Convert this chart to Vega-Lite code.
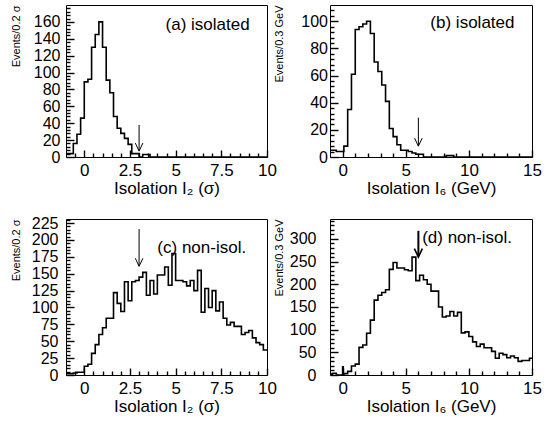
{
  "$schema": "https://vega.github.io/schema/vega-lite/v6.json",
  "padding": {"left": 9, "top": 4, "right": 0, "bottom": 0},
  "columns": 2,
  "spacing": {"row": 17, "column": -4},
  "config": {
    "view": {"stroke": "black", "strokeWidth": 1},
    "font": "Liberation Sans",
    "axis": {"domain": false, "grid": false, "tickColor": "black", "tickWidth": 1.4, "labelColor": "black", "titleColor": "black", "labelFont": "Liberation Sans", "titleFont": "Liberation Sans", "labelFontSize": 17, "titleFontSize": 17, "titleFontWeight": "normal", "labelOverlap": false, "labelFlush": false, "labelBound": false},
    "axisY": {"titleFontSize": 11, "titleAngle": -90, "titleAlign": "right", "titleBaseline": "bottom", "titleY": 0, "labelFontSize": 16},
    "text": {"font": "Liberation Sans"}
  },
  "concat": [
    {
      "width": 201, "height": 152,
      "resolve": {"axis": {"x": "independent", "y": "independent"}},
      "layer": [
        {
          "data": {"values": [
            {"x": -1, "n": 4}, {"x": -0.8, "n": 4}, {"x": -0.6, "n": 16}, {"x": -0.4, "n": 27}, {"x": -0.2, "n": 46},
            {"x": 0, "n": 89}, {"x": 0.2, "n": 92}, {"x": 0.4, "n": 130}, {"x": 0.6, "n": 145}, {"x": 0.8, "n": 160},
            {"x": 1, "n": 130}, {"x": 1.2, "n": 91}, {"x": 1.4, "n": 76}, {"x": 1.6, "n": 48}, {"x": 1.8, "n": 34},
            {"x": 2, "n": 28}, {"x": 2.2, "n": 22}, {"x": 2.4, "n": 15}, {"x": 2.6, "n": 4}, {"x": 2.8, "n": 4},
            {"x": 3, "n": 0}, {"x": 3.2, "n": 3}, {"x": 3.4, "n": 3}, {"x": 3.6, "n": 0}, {"x": 10, "n": 0}
          ]},
          "mark": {"type": "line", "interpolate": "step-after", "color": "black", "strokeWidth": 1.6},
          "encoding": {
            "x": {"field": "x", "type": "quantitative", "scale": {"domain": [-1, 10], "nice": false, "zero": false},
                  "axis": {"orient": "bottom", "values": [0, 2.5, 5, 7.5, 10], "format": ".2~f", "offset": -7, "tickSize": 7, "labelPadding": 5, "title": "Isolation I₂ (σ)", "titlePadding": 2}},
            "y": {"field": "n", "type": "quantitative", "scale": {"domain": [0, 180], "nice": false},
                  "axis": {"orient": "left", "values": [0, 20, 40, 60, 80, 100, 120, 140, 160], "offset": -8, "tickSize": 8, "labelPadding": 6, "title": "Events/0.2 σ", "titleX": -53}}
          }
        },
        {
          "data": {"values": [{"cut": 3}]},
          "mark": {"type": "rule", "color": "black", "strokeWidth": 1},
          "encoding": {
            "x": {"field": "cut", "type": "quantitative", "scale": {"domain": [-1, 10], "nice": false, "zero": false},
                  "axis": {"orient": "bottom", "values": [-0.5, 0.5, 1, 1.5, 2, 3, 3.5, 4, 4.5, 5.5, 6, 6.5, 7, 8, 8.5, 9, 9.5], "offset": -4, "tickSize": 4, "labels": false, "title": null}},
            "y": {"datum": 38, "type": "quantitative", "scale": {"domain": [0, 180], "nice": false},
                  "axis": {"orient": "left", "values": [4, 8, 12, 16, 24, 28, 32, 36, 44, 48, 52, 56, 64, 68, 72, 76, 84, 88, 92, 96, 104, 108, 112, 116, 124, 128, 132, 136, 144, 148, 152, 156, 164, 168, 172, 176], "offset": -4, "tickSize": 4, "labels": false, "title": null}},
            "y2": {"datum": 7}
          }
        },
        {
          "data": {"values": [{"cut": 3}]},
          "mark": {"type": "point", "shape": "M-1,-2.1L0,0L1,-2.1", "size": 58, "filled": false, "color": "black", "strokeWidth": 1, "opacity": 1},
          "encoding": {
            "x": {"field": "cut", "type": "quantitative", "scale": {"domain": [-1, 10], "nice": false, "zero": false}, "axis": null},
            "y": {"datum": 7, "type": "quantitative", "scale": {"domain": [0, 180], "nice": false}, "axis": null}
          }
        },
        {
          "data": {"values": [{"label": "(a) isolated"}]},
          "mark": {"type": "text", "align": "left", "baseline": "alphabetic", "fontSize": 17, "color": "black"},
          "encoding": {
            "x": {"datum": 4.45, "type": "quantitative", "scale": {"domain": [-1, 10], "nice": false, "zero": false}, "axis": null},
            "y": {"datum": 150, "type": "quantitative", "scale": {"domain": [0, 180], "nice": false}, "axis": null},
            "text": {"field": "label"}
          }
        }
      ]
    },
    {
      "width": 202, "height": 152,
      "resolve": {"axis": {"x": "independent", "y": "independent"}},
      "layer": [
        {
          "data": {"values": [
            {"x": -1, "n": 5}, {"x": -0.8, "n": 5}, {"x": -0.5, "n": 4}, {"x": -0.2, "n": 4}, {"x": 0.1, "n": 8},
            {"x": 0.4, "n": 35}, {"x": 0.7, "n": 61}, {"x": 1, "n": 94}, {"x": 1.3, "n": 96}, {"x": 1.6, "n": 98},
            {"x": 1.9, "n": 100}, {"x": 2.2, "n": 91}, {"x": 2.5, "n": 70}, {"x": 2.8, "n": 63}, {"x": 3.1, "n": 53},
            {"x": 3.4, "n": 41}, {"x": 3.7, "n": 21}, {"x": 4, "n": 15}, {"x": 4.3, "n": 9}, {"x": 4.6, "n": 5},
            {"x": 4.9, "n": 5}, {"x": 5.2, "n": 4}, {"x": 5.5, "n": 3}, {"x": 5.8, "n": 2}, {"x": 6.1, "n": 2},
            {"x": 6.4, "n": 0}, {"x": 8.2, "n": 1}, {"x": 8.8, "n": 0}, {"x": 15, "n": 0}
          ]},
          "mark": {"type": "line", "interpolate": "step-after", "color": "black", "strokeWidth": 1.6},
          "encoding": {
            "x": {"field": "x", "type": "quantitative", "scale": {"domain": [-1, 15], "nice": false, "zero": false},
                  "axis": {"orient": "bottom", "values": [0, 5, 10, 15], "format": ".2~f", "offset": -7, "tickSize": 7, "labelPadding": 5, "title": "Isolation I₆ (GeV)", "titlePadding": 2}},
            "y": {"field": "n", "type": "quantitative", "scale": {"domain": [0, 112], "nice": false},
                  "axis": {"orient": "left", "values": [0, 20, 40, 60, 80, 100], "offset": -8, "tickSize": 8, "labelPadding": 2.5, "title": "Events/0.3 GeV", "titleX": -53.5}}
          }
        },
        {
          "data": {"values": [{"cut": 6}]},
          "mark": {"type": "rule", "color": "black", "strokeWidth": 1},
          "encoding": {
            "x": {"field": "cut", "type": "quantitative", "scale": {"domain": [-1, 15], "nice": false, "zero": false},
                  "axis": {"orient": "bottom", "values": [1, 2, 3, 4, 6, 7, 8, 9, 11, 12, 13, 14], "offset": -4, "tickSize": 4, "labels": false, "title": null}},
            "y": {"datum": 29, "type": "quantitative", "scale": {"domain": [0, 112], "nice": false},
                  "axis": {"orient": "left", "values": [4, 8, 12, 16, 24, 28, 32, 36, 44, 48, 52, 56, 64, 68, 72, 76, 84, 88, 92, 96, 104, 108], "offset": -4, "tickSize": 4, "labels": false, "title": null}},
            "y2": {"datum": 8}
          }
        },
        {
          "data": {"values": [{"cut": 6}]},
          "mark": {"type": "point", "shape": "M-1,-2.1L0,0L1,-2.1", "size": 58, "filled": false, "color": "black", "strokeWidth": 1, "opacity": 1},
          "encoding": {
            "x": {"field": "cut", "type": "quantitative", "scale": {"domain": [-1, 15], "nice": false, "zero": false}, "axis": null},
            "y": {"datum": 8, "type": "quantitative", "scale": {"domain": [0, 112], "nice": false}, "axis": null}
          }
        },
        {
          "data": {"values": [{"label": "(b) isolated"}]},
          "mark": {"type": "text", "align": "left", "baseline": "alphabetic", "fontSize": 17, "color": "black"},
          "encoding": {
            "x": {"datum": 6.95, "type": "quantitative", "scale": {"domain": [-1, 15], "nice": false, "zero": false}, "axis": null},
            "y": {"datum": 95, "type": "quantitative", "scale": {"domain": [0, 112], "nice": false}, "axis": null},
            "text": {"field": "label"}
          }
        }
      ]
    },
    {
      "width": 201, "height": 156,
      "resolve": {"axis": {"x": "independent", "y": "independent"}},
      "layer": [
        {
          "data": {"values": [
            {"x": -1, "n": 2}, {"x": -0.8, "n": 2}, {"x": -0.6, "n": 3}, {"x": -0.4, "n": 4}, {"x": -0.2, "n": 4},
            {"x": 0, "n": 13}, {"x": 0.2, "n": 16}, {"x": 0.4, "n": 32}, {"x": 0.6, "n": 45}, {"x": 0.8, "n": 60},
            {"x": 1, "n": 70}, {"x": 1.2, "n": 84}, {"x": 1.4, "n": 84}, {"x": 1.6, "n": 122}, {"x": 1.8, "n": 106},
            {"x": 2, "n": 94}, {"x": 2.2, "n": 138}, {"x": 2.4, "n": 110}, {"x": 2.6, "n": 138}, {"x": 2.8, "n": 140},
            {"x": 3, "n": 145}, {"x": 3.2, "n": 152}, {"x": 3.4, "n": 118}, {"x": 3.6, "n": 140}, {"x": 3.8, "n": 120},
            {"x": 4, "n": 148}, {"x": 4.2, "n": 148}, {"x": 4.4, "n": 160}, {"x": 4.6, "n": 133}, {"x": 4.8, "n": 180},
            {"x": 5, "n": 140}, {"x": 5.2, "n": 140}, {"x": 5.4, "n": 138}, {"x": 5.6, "n": 132}, {"x": 5.8, "n": 140},
            {"x": 6, "n": 125}, {"x": 6.2, "n": 155}, {"x": 6.4, "n": 93}, {"x": 6.6, "n": 128}, {"x": 6.8, "n": 100},
            {"x": 7, "n": 125}, {"x": 7.2, "n": 95}, {"x": 7.4, "n": 108}, {"x": 7.6, "n": 84}, {"x": 7.8, "n": 74},
            {"x": 8, "n": 78}, {"x": 8.2, "n": 72}, {"x": 8.4, "n": 72}, {"x": 8.6, "n": 60}, {"x": 8.8, "n": 63},
            {"x": 9, "n": 66}, {"x": 9.2, "n": 55}, {"x": 9.4, "n": 48}, {"x": 9.6, "n": 45}, {"x": 9.8, "n": 37},
            {"x": 10, "n": 37}
          ]},
          "mark": {"type": "line", "interpolate": "step-after", "color": "black", "strokeWidth": 1.6},
          "encoding": {
            "x": {"field": "x", "type": "quantitative", "scale": {"domain": [-1, 10], "nice": false, "zero": false},
                  "axis": {"orient": "bottom", "values": [0, 2.5, 5, 7.5, 10], "format": ".2~f", "offset": -7, "tickSize": 7, "labelPadding": 5, "title": "Isolation I₂ (σ)", "titlePadding": 2}},
            "y": {"field": "n", "type": "quantitative", "scale": {"domain": [0, 231], "nice": false},
                  "axis": {"orient": "left", "values": [0, 25, 50, 75, 100, 125, 150, 175, 200, 225], "offset": -8, "tickSize": 8, "labelPadding": 8, "title": "Events/0.2 σ", "titleX": -53}}
          }
        },
        {
          "data": {"values": [{"cut": 3}]},
          "mark": {"type": "rule", "color": "black", "strokeWidth": 1},
          "encoding": {
            "x": {"field": "cut", "type": "quantitative", "scale": {"domain": [-1, 10], "nice": false, "zero": false},
                  "axis": {"orient": "bottom", "values": [-0.5, 0.5, 1, 1.5, 2, 3, 3.5, 4, 4.5, 5.5, 6, 6.5, 7, 8, 8.5, 9, 9.5], "offset": -4, "tickSize": 4, "labels": false, "title": null}},
            "y": {"datum": 216, "type": "quantitative", "scale": {"domain": [0, 231], "nice": false},
                  "axis": {"orient": "left", "values": [5, 10, 15, 20, 30, 35, 40, 45, 55, 60, 65, 70, 80, 85, 90, 95, 105, 110, 115, 120, 130, 135, 140, 145, 155, 160, 165, 170, 180, 185, 190, 195, 205, 210, 215, 220, 230], "offset": -4, "tickSize": 4, "labels": false, "title": null}},
            "y2": {"datum": 161}
          }
        },
        {
          "data": {"values": [{"cut": 3}]},
          "mark": {"type": "point", "shape": "M-1,-2.1L0,0L1,-2.1", "size": 58, "filled": false, "color": "black", "strokeWidth": 1, "opacity": 1},
          "encoding": {
            "x": {"field": "cut", "type": "quantitative", "scale": {"domain": [-1, 10], "nice": false, "zero": false}, "axis": null},
            "y": {"datum": 161, "type": "quantitative", "scale": {"domain": [0, 231], "nice": false}, "axis": null}
          }
        },
        {
          "data": {"values": [{"label": "(c) non-isol."}]},
          "mark": {"type": "text", "align": "left", "baseline": "alphabetic", "fontSize": 17, "color": "black"},
          "encoding": {
            "x": {"datum": 4.0, "type": "quantitative", "scale": {"domain": [-1, 10], "nice": false, "zero": false}, "axis": null},
            "y": {"datum": 181, "type": "quantitative", "scale": {"domain": [0, 231], "nice": false}, "axis": null},
            "text": {"field": "label"}
          }
        }
      ]
    },
    {
      "width": 202, "height": 156,
      "resolve": {"axis": {"x": "independent", "y": "independent"}},
      "layer": [
        {
          "data": {"values": [
            {"x": -1, "n": 2}, {"x": -0.8, "n": 4}, {"x": -0.5, "n": 0}, {"x": 0, "n": 18}, {"x": 0.05, "n": 0},
            {"x": 0.1, "n": 3}, {"x": 0.4, "n": 8}, {"x": 0.7, "n": 20}, {"x": 1, "n": 24}, {"x": 1.3, "n": 61},
            {"x": 1.6, "n": 66}, {"x": 1.9, "n": 92}, {"x": 2.2, "n": 121}, {"x": 2.5, "n": 165}, {"x": 2.8, "n": 176},
            {"x": 3.1, "n": 182}, {"x": 3.4, "n": 188}, {"x": 3.7, "n": 233}, {"x": 4, "n": 248}, {"x": 4.3, "n": 236},
            {"x": 4.6, "n": 236}, {"x": 4.9, "n": 232}, {"x": 5.2, "n": 230}, {"x": 5.5, "n": 260}, {"x": 5.8, "n": 208},
            {"x": 6.1, "n": 220}, {"x": 6.4, "n": 210}, {"x": 6.7, "n": 200}, {"x": 7, "n": 185}, {"x": 7.3, "n": 185},
            {"x": 7.6, "n": 150}, {"x": 7.9, "n": 128}, {"x": 8.2, "n": 130}, {"x": 8.5, "n": 140}, {"x": 8.8, "n": 130},
            {"x": 9.1, "n": 138}, {"x": 9.4, "n": 93}, {"x": 9.7, "n": 95}, {"x": 10, "n": 85}, {"x": 10.3, "n": 73},
            {"x": 10.6, "n": 63}, {"x": 10.9, "n": 68}, {"x": 11.2, "n": 60}, {"x": 11.5, "n": 60}, {"x": 11.8, "n": 52},
            {"x": 12.1, "n": 37}, {"x": 12.4, "n": 48}, {"x": 12.7, "n": 45}, {"x": 13, "n": 38}, {"x": 13.3, "n": 42},
            {"x": 13.6, "n": 38}, {"x": 13.9, "n": 30}, {"x": 14.2, "n": 32}, {"x": 14.5, "n": 32}, {"x": 14.8, "n": 37},
            {"x": 15, "n": 37}
          ]},
          "mark": {"type": "line", "interpolate": "step-after", "color": "black", "strokeWidth": 1.6},
          "encoding": {
            "x": {"field": "x", "type": "quantitative", "scale": {"domain": [-1, 15], "nice": false, "zero": false},
                  "axis": {"orient": "bottom", "values": [0, 5, 10, 15], "format": ".2~f", "offset": -7, "tickSize": 7, "labelPadding": 5, "title": "Isolation I₆ (GeV)", "titlePadding": 2}},
            "y": {"field": "n", "type": "quantitative", "scale": {"domain": [0, 344], "nice": false},
                  "axis": {"orient": "left", "values": [0, 50, 100, 150, 200, 250, 300], "offset": -8, "tickSize": 8, "labelPadding": 14, "title": "Events/0.3 GeV", "titleX": -53.5}}
          }
        },
        {
          "data": {"values": [{"cut": 6}]},
          "mark": {"type": "rule", "color": "black", "strokeWidth": 2},
          "encoding": {
            "x": {"field": "cut", "type": "quantitative", "scale": {"domain": [-1, 15], "nice": false, "zero": false},
                  "axis": {"orient": "bottom", "values": [1, 2, 3, 4, 6, 7, 8, 9, 11, 12, 13, 14], "offset": -4, "tickSize": 4, "labels": false, "title": null}},
            "y": {"datum": 318, "type": "quantitative", "scale": {"domain": [0, 344], "nice": false},
                  "axis": {"orient": "left", "values": [10, 20, 30, 40, 60, 70, 80, 90, 110, 120, 130, 140, 160, 170, 180, 190, 210, 220, 230, 240, 260, 270, 280, 290, 310, 320, 330, 340], "offset": -4, "tickSize": 4, "labels": false, "title": null}},
            "y2": {"datum": 262}
          }
        },
        {
          "data": {"values": [{"cut": 6}]},
          "mark": {"type": "point", "shape": "M-1,-2.1L0,0L1,-2.1", "size": 64, "filled": false, "color": "black", "strokeWidth": 1.6, "opacity": 1},
          "encoding": {
            "x": {"field": "cut", "type": "quantitative", "scale": {"domain": [-1, 15], "nice": false, "zero": false}, "axis": null},
            "y": {"datum": 260, "type": "quantitative", "scale": {"domain": [0, 344], "nice": false}, "axis": null}
          }
        },
        {
          "data": {"values": [{"label": "(d) non-isol."}]},
          "mark": {"type": "text", "align": "left", "baseline": "alphabetic", "fontSize": 17, "color": "black"},
          "encoding": {
            "x": {"datum": 6.3, "type": "quantitative", "scale": {"domain": [-1, 15], "nice": false, "zero": false}, "axis": null},
            "y": {"datum": 290, "type": "quantitative", "scale": {"domain": [0, 344], "nice": false}, "axis": null},
            "text": {"field": "label"}
          }
        }
      ]
    }
  ]
}
